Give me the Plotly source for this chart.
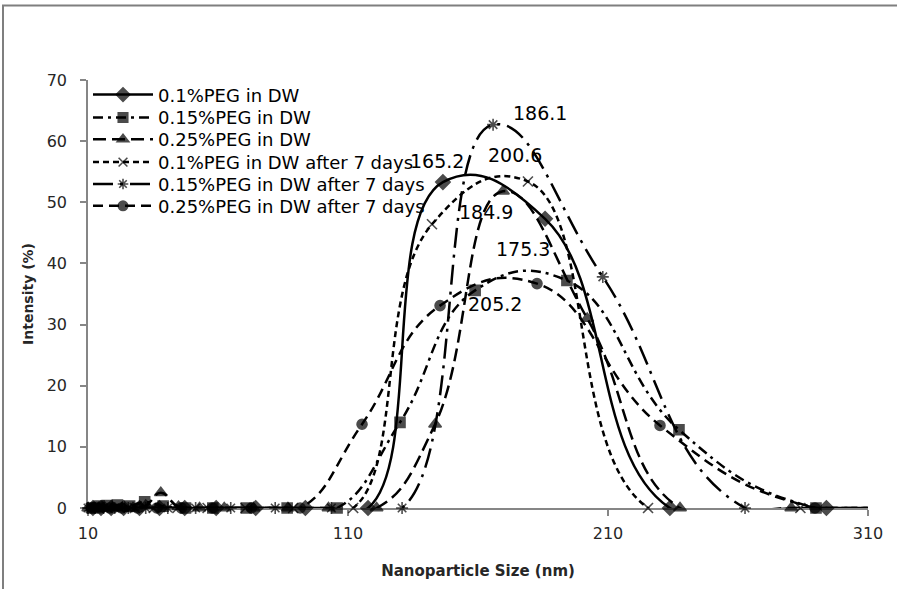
import plotly.graph_objects as go

# ---------------- data (size in nm, intensity in %) ----------------
s1_name = "0.1%PEG in DW"
s1_x = [9.5, 11.9, 15.0, 18.9, 23.7, 29.8, 37.5, 47.2, 59.3, 74.5, 93.6, 117.7, 146.5, 185.8, 233.8, 294.0, 369.6]
s1_y = [0, 0, 0, 0, 0, 0, 0, 0, 0, 0, 0, 0, 53.3, 47.3, 0, 0, 0]

s2_name = "0.15%PEG in DW"
s2_x = [9.6, 11.7, 14.3, 17.4, 21.3, 26.0, 31.8, 38.9, 47.5, 58.0, 70.9, 86.6, 105.8, 130.0, 158.9, 194.2, 237.3, 290.0, 354.4]
s2_y = [0, 0, 0.3, 0.4, 0.5, 0.3, 1.0, 0.3, 0, 0, 0, 0, 0, 14.0, 35.6, 37.2, 12.8, 0, 0]

s3_name = "0.25%PEG in DW"
s3_x = [8.6, 10.1, 11.9, 14.1, 16.6, 19.6, 23.1, 27.3, 32.2, 38.0, 44.8, 52.9, 62.4, 73.6, 86.9, 102.5, 121.0, 143.5, 169.6, 202.0, 237.7, 280.5, 331.0]
s3_y = [0, 0, 0, 0, 0, 0, 0, 0, 0.4, 2.5, 0.2, 0, 0, 0, 0, 0, 0, 13.7, 51.8, 31.0, 0, 0, 0]

s4_name = "0.1%PEG in DW after 7 days"
s4_x = [8.8, 11.1, 14.0, 17.6, 22.2, 28.0, 35.3, 44.4, 56.0, 70.6, 88.9, 112.0, 142.3, 179.2, 225.4, 284.0, 357.8]
s4_y = [0, 0, 0, 0, 0, 0, 0, 0, 0, 0, 0, 0, 46.4, 53.4, 0, 0, 0]

s5_name = "0.15%PEG in DW after 7 days"
s5_x = [7.9, 10.0, 12.7, 16.0, 20.2, 25.5, 32.2, 40.7, 51.4, 64.9, 82.0, 103.6, 130.8, 165.8, 208.0, 262.7, 331.8]
s5_y = [0, 0, 0, 0, 0, 0, 0, 0, 0, 0, 0, 0, 0, 62.7, 37.8, 0, 0]

s6_name = "0.25%PEG in DW after 7 days"
s6_x = [9.1, 11.5, 14.5, 18.3, 23.0, 29.0, 36.5, 45.9, 57.8, 72.8, 91.6, 115.4, 145.4, 182.7, 230.0, 289.6, 364.6]
s6_y = [0, 0, 0, 0, 0, 0, 0, 0, 0, 0, 0, 13.7, 33.1, 36.7, 13.5, 0, 0]

peak_labels = ["186.1", "165.2", "200.6", "184.9", "175.3", "205.2"]
peak_label_x = [183.8, 144.2, 174.2, 163.1, 177.3, 166.5]
peak_label_y = [64.6, 56.7, 57.8, 48.4, 42.4, 33.3]

x_ticks = [10, 110, 210, 310]
y_ticks = [0, 10, 20, 30, 40, 50, 60, 70]
X_MIN, X_MAX = 10, 310

# ---------------- styles ----------------
FONT = "DejaVu Sans"
series = [
    (s1_name, s1_x, s1_y, "solid", "diamond", 11),
    (s2_name, s2_x, s2_y, "10px,5px,3px,5px", "square", 10),
    (s3_name, s3_x, s3_y, "13px,6px", "triangle-up", 11),
    (s4_name, s4_x, s4_y, "6px,4px", "x-thin-open", 10),
    (s5_name, s5_x, s5_y, "20px,7px,3px,7px", "asterisk-open", 10),
    (s6_name, s6_x, s6_y, "10px,6px", "circle", 10),
]
legend_rows_px = [95, 118, 140, 163, 185, 207]

fig = go.Figure()
layout_legends = {}
for i, (name, xs, ys, dash, sym, ms) in enumerate(series):
    sizes = [ms if X_MIN - 1 <= v <= X_MAX + 1 else 0 for v in xs]
    lg = "legend" if i == 0 else f"legend{i + 1}"
    fig.add_trace(go.Scatter(
        x=xs, y=ys, name=name, mode="lines+markers",
        line=dict(color="black", width=2.5, dash=dash, shape="spline", smoothing=1.3),
        marker=dict(symbol=sym, size=sizes, color="black",
                    line=dict(color="black", width=1.6)),
        cliponaxis=False, legend=lg, showlegend=True,
    ))
    ypos = (511 - legend_rows_px[i]) / 431
    layout_legends[lg] = dict(
        x=0.0, y=ypos, xanchor="left", yanchor="middle",
        bgcolor="rgba(0,0,0,0)", borderwidth=0, itemwidth=60,
        font=dict(family=FONT, size=18, color="black"),
        tracegroupgap=0,
    )

for t, xx, yy in zip(peak_labels, peak_label_x, peak_label_y):
    fig.add_annotation(x=xx, y=yy, text=t, showarrow=False,
                       font=dict(family=FONT, size=19, color="black"))

axis_common = dict(
    showgrid=False, zeroline=False, showline=True, linecolor="#868686", linewidth=1.5,
    ticks="outside", ticklen=6, tickcolor="#868686", tickwidth=1.5,
    tickfont=dict(family=FONT, size=16, color="#262626"), layer="below traces",
)

fig.update_layout(
    width=897, height=589,
    margin=dict(l=88, r=29, t=80, b=78),
    paper_bgcolor="white", plot_bgcolor="white",
    xaxis=dict(range=[X_MIN, X_MAX], tickvals=x_ticks, ticklabelstandoff=4,
               title=dict(text="<b>Nanoparticle Size (nm)</b>", standoff=24,
                          font=dict(family=FONT, size=15, color="#262626")),
               **axis_common),
    yaxis=dict(range=[0, 70], tickvals=y_ticks, ticklabelstandoff=10,
               title=dict(text="<b>Intensity (%)</b>", standoff=10,
                          font=dict(family=FONT, size=14, color="#262626")),
               **axis_common),
    shapes=[dict(type="rect", xref="paper", yref="paper",
                 x0=(3 - 88) / 780, x1=1.3, y0=-0.4, y1=(511 - 5) / 431,
                 line=dict(color="#7f7f7f", width=2), fillcolor="rgba(0,0,0,0)", layer="below")],
    **layout_legends,
)

fig.write_html("out.html", config={"displayModeBar": False},
               post_script="document.body.style.margin='0';document.body.style.overflow='hidden';")
